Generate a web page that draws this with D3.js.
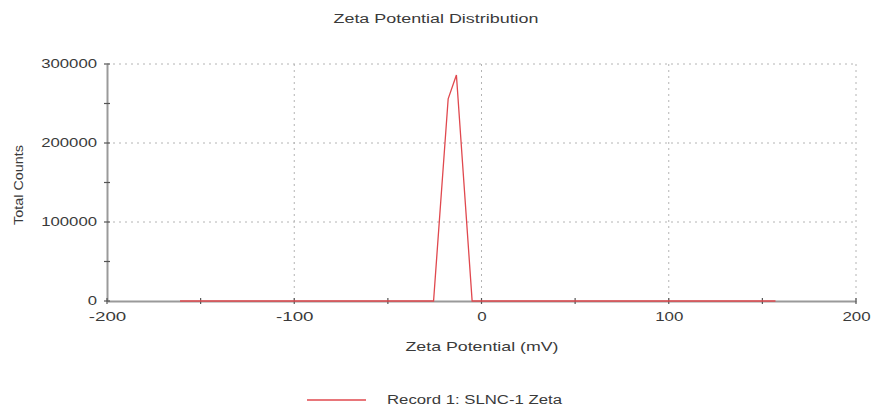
<!DOCTYPE html>
<html>
<head>
<meta charset="utf-8">
<script src="https://cdn.jsdelivr.net/npm/d3@7"></script>
<style>
  html, body { margin: 0; padding: 0; background: #fff; }
  svg { display: block; font-family: "Liberation Sans", Arial, sans-serif; }
</style>
</head>
<body>
<svg id="chart" width="873" height="408"></svg>
<script>
// Zeta potential distribution, record 1
const zetaMv  = [-161, -25.6, -17.8, -13.4, -5.0, 157];
const counts  = [0, 0, 256000, 286000, 0, 0];
const xTicks  = [-200, -100, 0, 100, 200];
const xMinor  = [-150, -50, 50, 150];
const yTicks  = [0, 100000, 200000, 300000];
const yMinor  = [50000, 150000, 250000];
const seriesName = "Record 1: SLNC-1 Zeta";

const svg = d3.select("#chart");
const m = { left: 107, right: 856, top: 64, bottom: 301 };

const x = d3.scaleLinear().domain([-200, 200]).range([m.left, m.right]);
const y = d3.scaleLinear().domain([0, 300000]).range([m.bottom, m.top]);

const gridColor = "#b4b4b4";
const axisColor = "#9a9a9a";
const textColor = "#3a3a3a";
const lineColor = "#e0484e";

// plain hyphen-minus labels
const fmt = d => String(d);
// wide, stretched lettering
const stretch = (sel, perChar) => sel
  .attr("textLength", function () { return this.textContent.length * perChar; })
  .attr("lengthAdjust", "spacingAndGlyphs");

// dotted grid at the major ticks
svg.append("g").selectAll("line").data(xTicks.filter(d => d !== -200)).join("line")
  .attr("x1", d => x(d)).attr("x2", d => x(d))
  .attr("y1", y(300000)).attr("y2", y(0))
  .attr("stroke", gridColor).attr("stroke-width", 1).attr("stroke-dasharray", "2,4");
svg.append("g").selectAll("line").data(yTicks.filter(d => d !== 0)).join("line")
  .attr("x1", x(-200)).attr("x2", x(200))
  .attr("y1", d => y(d)).attr("y2", d => y(d))
  .attr("stroke", gridColor).attr("stroke-width", 1).attr("stroke-dasharray", "2,4");

// axes
const xAxis = d3.axisBottom(x).tickValues(xTicks).tickSize(0).tickPadding(11).tickFormat(fmt);
const gx = svg.append("g").attr("transform", `translate(0,${y(0)})`).call(xAxis);
gx.select(".domain").attr("stroke", axisColor).attr("stroke-width", 2);
gx.selectAll("text").attr("fill", textColor).attr("font-size", 13)
  .attr("font-family", "'Liberation Sans', Arial, sans-serif")
  .call(stretch, 9.4);

const yAxis = d3.axisLeft(y).tickValues(yTicks).tickSize(0).tickPadding(10).tickFormat(fmt);
const gy = svg.append("g").attr("transform", `translate(${x(-200)},0)`).call(yAxis);
gy.select(".domain").attr("stroke", axisColor).attr("stroke-width", 2);
gy.selectAll("text").attr("fill", textColor).attr("font-size", 12)
  .attr("font-family", "'Liberation Sans', Arial, sans-serif")
  .call(stretch, 9.3);

// tick marks crossing the axes
svg.append("g").selectAll("line").data(xTicks.concat(xMinor)).join("line")
  .attr("x1", d => x(d)).attr("x2", d => x(d))
  .attr("y1", y(0) - 3).attr("y2", y(0) + 3)
  .attr("stroke", "#555").attr("stroke-width", 1.2);
svg.append("g").selectAll("line").data(yTicks.concat(yMinor)).join("line")
  .attr("x1", x(-200) - 3).attr("x2", x(-200) + 3)
  .attr("y1", d => y(d)).attr("y2", d => y(d))
  .attr("stroke", "#555").attr("stroke-width", 1.2);

// data line
const pts = zetaMv.map((v, i) => [v, counts[i]]);
svg.append("path").datum(pts)
  .attr("fill", "none").attr("stroke", lineColor).attr("stroke-width", 1.3)
  .attr("d", d3.line().x(d => x(d[0])).y(d => y(d[1])));

// titles
svg.append("text").attr("x", 436).attr("y", 23).attr("text-anchor", "middle")
  .attr("font-size", 12).attr("fill", textColor)
  .attr("textLength", 205).attr("lengthAdjust", "spacingAndGlyphs")
  .text("Zeta Potential Distribution");
svg.append("text").attr("x", 482).attr("y", 351).attr("text-anchor", "middle")
  .attr("font-size", 13).attr("fill", textColor)
  .attr("textLength", 153).attr("lengthAdjust", "spacingAndGlyphs")
  .text("Zeta Potential (mV)");
svg.append("text").attr("transform", `translate(23,185) rotate(-90)`)
  .attr("text-anchor", "middle").attr("font-size", 12).attr("fill", textColor)
  .attr("textLength", 80).attr("lengthAdjust", "spacingAndGlyphs")
  .text("Total Counts");

// legend
svg.append("line").attr("x1", 307).attr("x2", 366).attr("y1", 400).attr("y2", 400)
  .attr("stroke", lineColor).attr("stroke-width", 1.3);
svg.append("text").attr("x", 387).attr("y", 404).attr("font-size", 12)
  .attr("fill", textColor)
  .attr("textLength", 175).attr("lengthAdjust", "spacingAndGlyphs")
  .text(seriesName);
</script>
</body>
</html>
